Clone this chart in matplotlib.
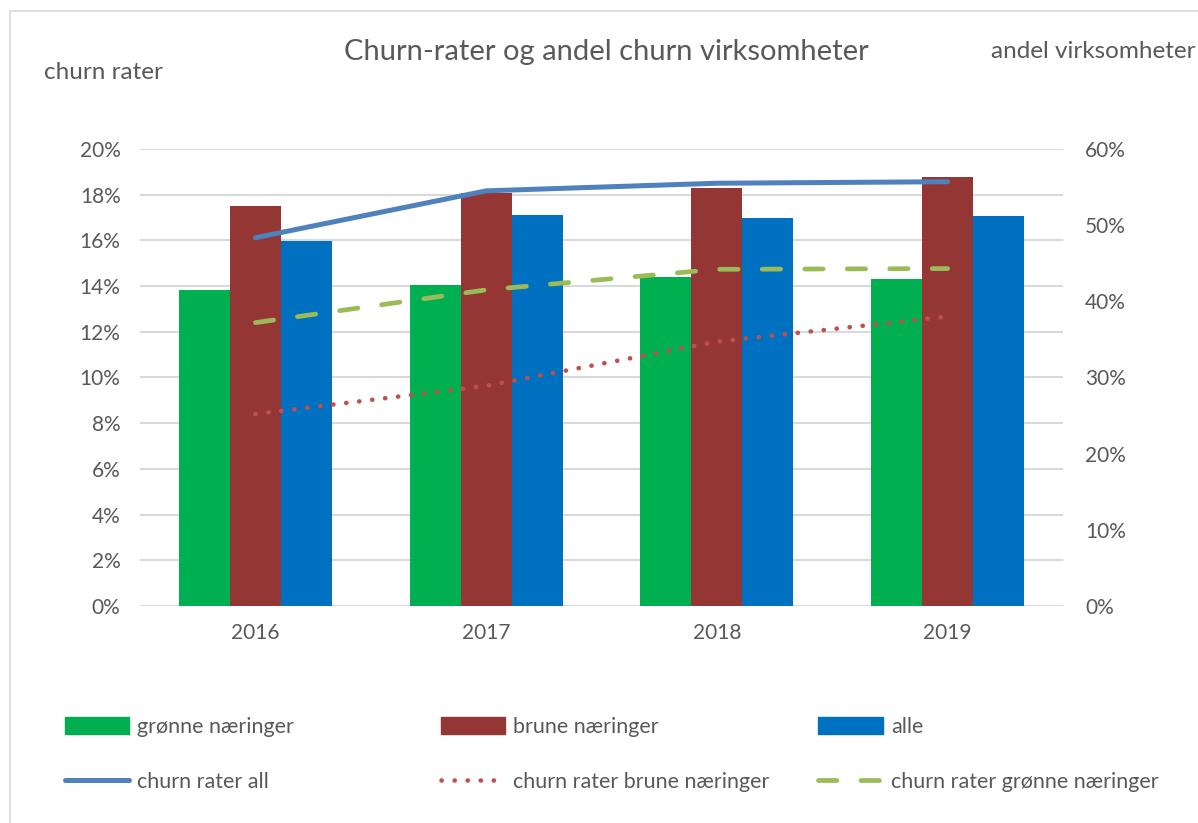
import matplotlib.pyplot as plt
from matplotlib.patches import Patch, Rectangle
from matplotlib.ticker import PercentFormatter

years = ["2016", "2017", "2018", "2019"]

# bars, left axis (churn rater, %)
gronne = [13.83, 14.05, 14.41, 14.31]
brune = [17.49, 18.07, 18.30, 18.79]
alle = [15.96, 17.10, 17.00, 17.08]

# lines, right axis (andel virksomheter, %)
churn_all = [48.35, 54.5, 55.5, 55.7]
churn_brune = [25.2, 28.9, 34.7, 38.0]
churn_gronne = [37.2, 41.5, 44.2, 44.3]

plt.rcParams["font.family"] = ["Lato", "DejaVu Sans"]
txt = "#595959"
grid_c = "#D9D9D9"

fig = plt.figure(figsize=(11.98, 8.23), dpi=100)
ax = fig.add_axes([0.1169, 0.2637, 0.7704, 0.5553])
ax2 = ax.twinx()

x = range(len(years))
w = 0.221
ax.bar([i - w for i in x], gronne, w, color="#00B050", label="grønne næringer", zorder=2)
ax.bar(list(x), brune, w, color="#943634", label="brune næringer", zorder=2)
ax.bar([i + w for i in x], alle, w, color="#0070C0", label="alle", zorder=2)

ax.set_ylim(0, 20)
ax.set_xlim(-0.5, 3.5)
ax.set_yticks(range(0, 21, 2))
ax.yaxis.set_major_formatter(PercentFormatter(decimals=0))
ax.set_xticks(list(x))
ax.set_xticklabels(years)
ax.grid(axis="y", color=grid_c, lw=1.5, zorder=0)
ax.set_axisbelow(True)
for s in ax.spines.values():
    s.set_visible(False)
ax.tick_params(axis="both", length=0, colors=txt, labelsize=15)
ax.tick_params(axis="y", pad=14)
ax.tick_params(axis="x", pad=12)

l1, = ax2.plot(x, churn_all, color="#4F81BD", lw=3.6, solid_capstyle="round",
               label="churn rater all")
l2, = ax2.plot(x, churn_brune, color="#C0504D", lw=3.3, dashes=(0.05, 2.8),
               dash_capstyle="round", label="churn rater brune næringer")
l3, = ax2.plot(x, churn_gronne, color="#9BBB59", lw=3.4, dashes=(3.9, 5.1),
               dash_capstyle="round", label="churn rater grønne næringer")
ax2.set_ylim(0, 60)
ax2.set_yticks(range(0, 61, 10))
ax2.yaxis.set_major_formatter(PercentFormatter(decimals=0))
for s in ax2.spines.values():
    s.set_visible(False)
ax2.tick_params(axis="y", length=0, colors=txt, labelsize=15, pad=16)

fig.text(0.506, 0.937, "Churn-rater og andel churn virksomheter", ha="center",
         va="center", fontsize=21, color=txt)
fig.text(0.037, 0.912, "churn rater", ha="left", va="center", fontsize=17.5, color=txt)
fig.text(0.998, 0.937, "andel virksomheter", ha="right", va="center", fontsize=17.5, color=txt)

# legend, three columns
cols = [
    ([Patch(color="#00B050"), l1], ["grønne næringer", "churn rater all"], 0.054),
    ([Patch(color="#943634"), l2], ["brune næringer", "churn rater brune næringer"], 0.368),
    ([Patch(color="#0070C0"), l3], ["alle", "churn rater grønne næringer"], 0.683),
]
for handles, labels, xl in cols:
    fig.legend(handles, labels, loc="upper left", bbox_to_anchor=(xl, 0.129),
               frameon=False, fontsize=15.5, handlelength=3.0, handleheight=0.8,
               handletextpad=0.37, labelspacing=1.64, labelcolor=txt,
               borderaxespad=0, borderpad=0)

fig.patches.append(Rectangle((0.0085, -0.1), 1.2, 1.087, transform=fig.transFigure,
                             fill=False, edgecolor=grid_c, lw=1.2))

fig.savefig("out.png", dpi=100)
